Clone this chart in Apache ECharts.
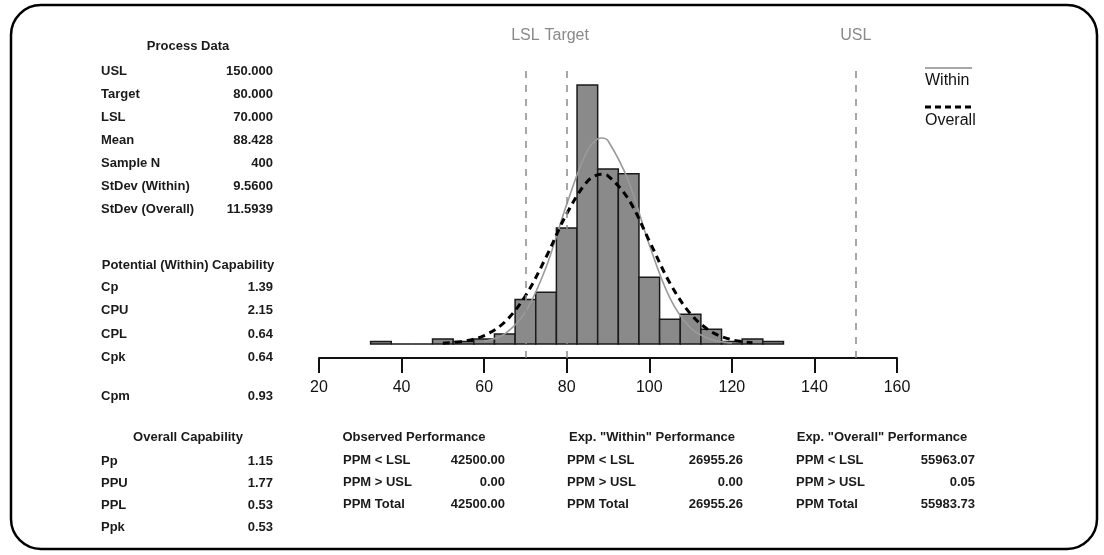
<!DOCTYPE html>
<html>
<head>
<meta charset="utf-8">
<script src="https://cdn.jsdelivr.net/npm/echarts@6/dist/echarts.min.js"></script>
<style>
  html, body { margin: 0; padding: 0; background: #fff; }
  #chart-container { width: 1104px; height: 555px; }
</style>
</head>
<body>
<div id="chart-container"></div>
<script>
// histogram bins (centre of each 5-wide bin) and counts
var binWidth = 5;
var binCenters = [35, 40, 45, 50, 55, 60, 65, 70, 75, 80, 85, 90, 95, 100, 105, 110, 115, 120, 125, 130];
var binCounts = [1, 0, 0, 2, 1, 2, 4, 18, 21, 47, 105, 71, 69, 27, 10, 12, 6, 1, 2, 1];

// fitted curves (x, expected count)
var withinX = [60, 65, 70, 75, 80, 85, 88.4, 90, 95, 100, 105, 110, 115, 120];
var withinY = [1.0, 4.1, 13.0, 31.1, 56.6, 78.3, 83.5, 82.4, 65.9, 40.2, 18.6, 6.5, 1.8, 0.4];
var overallX = [50, 55, 60, 65, 70, 75, 80, 85, 88.4, 90, 95, 100, 105, 110, 115, 120, 125];
var overallY = [0.3, 1.1, 3.4, 8.9, 19.5, 35.2, 52.8, 65.9, 68.8, 68.2, 58.6, 41.8, 24.7, 12.2, 5.0, 1.7, 0.5];

// spec limits
var specNames = ["LSL", "Target", "USL"];
var specValues = [70, 80, 150];

// text tables
var processLabels = ["USL", "Target", "LSL", "Mean", "Sample N", "StDev (Within)", "StDev (Overall)"];
var processValues = ["150.000", "80.000", "70.000", "88.428", "400", "9.5600", "11.5939"];
var potentialLabels = ["Cp", "CPU", "CPL", "Cpk", "Cpm"];
var potentialValues = ["1.39", "2.15", "0.64", "0.64", "0.93"];
var overallCapLabels = ["Pp", "PPU", "PPL", "Ppk"];
var overallCapValues = ["1.15", "1.77", "0.53", "0.53"];
var ppmLabels = ["PPM < LSL", "PPM > USL", "PPM Total"];
var observedPPM = ["42500.00", "0.00", "42500.00"];
var withinPPM = ["26955.26", "0.00", "26955.26"];
var overallPPM = ["55963.07", "0.05", "55983.73"];

var FONT = '"Liberation Sans", Arial, sans-serif';

function txt(x, y, text, align) {
  return {
    type: "text",
    silent: true,
    style: {
      x: x, y: y, text: text,
      fill: "#1a1a1a", fontSize: 13, fontWeight: "bold", fontFamily: FONT,
      align: align || "left", verticalAlign: "middle"
    }
  };
}

function block(title, titleX, titleY, labels, values, labelX, valueX, rowY) {
  var out = [txt(titleX, titleY, title, "center")];
  labels.forEach(function (lab, i) {
    out.push(txt(labelX, rowY[i], lab, "left"));
    out.push(txt(valueX, rowY[i], values[i], "right"));
  });
  return out;
}

var graphics = [
  {
    type: "rect", silent: true,
    shape: { x: 11, y: 5, width: 1086, height: 544, r: 30 },
    style: { fill: "none", stroke: "#000", lineWidth: 2.5 }
  },
  { type: "line", silent: true, shape: { x1: 925, y1: 68, x2: 972, y2: 68 }, style: { stroke: "#8a8a8a", lineWidth: 1.5 } },
  { type: "line", silent: true, shape: { x1: 925, y1: 107, x2: 972, y2: 107 }, style: { stroke: "#000", lineWidth: 3, lineDash: [6, 4] } },
  { type: "text", silent: true, style: { x: 925, y: 81, text: "Within", fill: "#111", fontSize: 16, fontFamily: FONT, verticalAlign: "middle" } },
  { type: "text", silent: true, style: { x: 925, y: 121, text: "Overall", fill: "#111", fontSize: 16, fontFamily: FONT, verticalAlign: "middle" } }
];

graphics = graphics
  .concat(block("Process Data", 188, 46, processLabels, processValues, 101, 273, [71, 94, 117, 140, 163, 186, 209]))
  .concat(block("Potential (Within) Capability", 188, 265, potentialLabels, potentialValues, 101, 273, [287, 310, 334, 357, 396]))
  .concat(block("Overall Capability", 188, 437, overallCapLabels, overallCapValues, 101, 273, [461, 483, 505, 527]))
  .concat(block("Observed Performance", 414, 437, ppmLabels, observedPPM, 343, 505, [460, 482, 504]))
  .concat(block('Exp. "Within" Performance', 652, 437, ppmLabels, withinPPM, 567, 743, [460, 482, 504]))
  .concat(block('Exp. "Overall" Performance', 882, 437, ppmLabels, overallPPM, 796, 975, [460, 482, 504]));

var dom = document.getElementById("chart-container");
var myChart = echarts.init(dom, null, { renderer: "canvas" });

var option = {
  animation: false,
  backgroundColor: "#fff",
  grid: { left: 319, right: 207, top: 70, bottom: 197 },
  xAxis: {
    type: "value",
    min: 20,
    max: 160,
    interval: 20,
    splitLine: { show: false },
    axisLine: { onZero: false, lineStyle: { color: "#111", width: 2 } },
    axisTick: { length: 15, lineStyle: { color: "#111", width: 2 } },
    axisLabel: { color: "#111", fontSize: 16, fontFamily: FONT, margin: 22 }
  },
  yAxis: {
    type: "value",
    min: -5.7,
    max: 111.1,
    show: false
  },
  graphic: graphics,
  series: [
    {
      type: "custom",
      name: "Histogram",
      data: binCenters.map(function (c, i) { return [c, binCounts[i]]; }),
      encode: { x: 0, y: 1 },
      renderItem: function (params, api) {
        var c = api.value(0), n = api.value(1);
        var p0 = api.coord([c - binWidth / 2, n]);
        var p1 = api.coord([c + binWidth / 2, 0]);
        return {
          type: "rect",
          shape: { x: p0[0], y: p0[1], width: p1[0] - p0[0], height: p1[1] - p0[1] },
          style: { fill: "#8a8a8a", stroke: "#1a1a1a", lineWidth: 1.5 }
        };
      }
    },
    {
      type: "line",
      name: "Within",
      smooth: 0.35,
      showSymbol: false,
      data: withinX.map(function (x, i) { return [x, withinY[i]]; }),
      lineStyle: { color: "#9a9a9a", width: 1.6 }
    },
    {
      type: "line",
      name: "Overall",
      smooth: 0.35,
      showSymbol: false,
      data: overallX.map(function (x, i) { return [x, overallY[i]]; }),
      lineStyle: { color: "#000", width: 3, type: [7, 5] }
    },
    {
      type: "line",
      name: "Spec",
      data: [],
      markLine: {
        silent: true,
        symbol: ["none", "none"],
        lineStyle: { color: "#8a8a8a", width: 1.5, type: [7, 7] },
        label: {
          show: true, position: "end", formatter: "{b}",
          color: "#8a8a8a", fontSize: 16, fontFamily: FONT, distance: 26
        },
        data: specNames.map(function (nm, i) { return { name: nm, xAxis: specValues[i] }; })
      }
    }
  ]
};

myChart.setOption(option);
window.addEventListener("resize", myChart.resize);
</script>
</body>
</html>
